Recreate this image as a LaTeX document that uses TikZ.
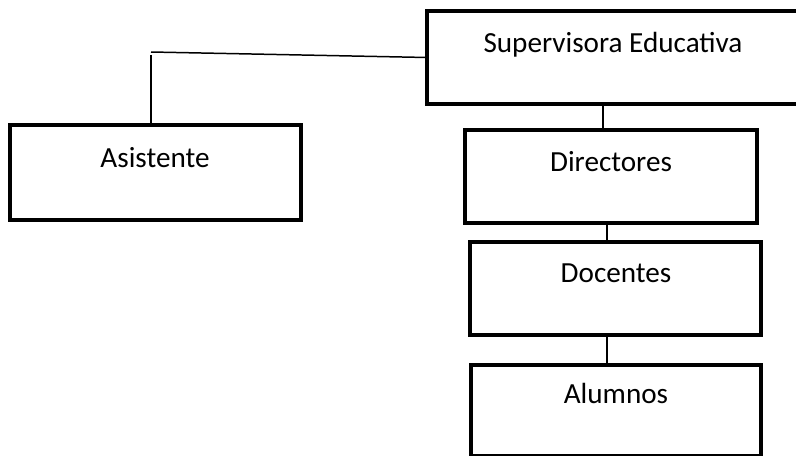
\documentclass[tikz,border=0pt]{standalone}
\usepackage{fontspec}
\setmainfont{Carlito}
\usepackage{tikz}
\usetikzlibrary{positioning}

\begin{document}
\begin{tikzpicture}[
                x=0.02cm, y=-0.02cm,
                box/.style={rectangle, draw, line width=2.55pt, outer sep=0pt, inner sep=0pt},
                lbl/.style={anchor=base, inner sep=0pt, font=\fontsize{16.6}{19}\selectfont},
                link/.style={draw, line width=0.85pt}
            ]
                \useasboundingbox (0,0) rectangle (796,456);
                \clip (0,0) rectangle (796,456);
                % boxes
                \node[box, minimum width=7.46cm, minimum height=1.86cm] (sup) at (613.5,57.5) {};
                \node[box, minimum width=5.82cm, minimum height=1.90cm] (asis) at (155.5,172.5) {};
                \node[box, minimum width=5.84cm, minimum height=1.86cm] (dir) at (611,176.5) {};
                \node[box, minimum width=5.82cm, minimum height=1.86cm] (doc) at (615.5,288.5) {};
                \node[box, minimum width=5.80cm, minimum height=1.82cm] (alu) at (616,410.5) {};
                % texts
                \node[lbl] (supt) at (613,53) {Supervisora Educativa};
                \node[lbl] (asist) at (155,168) {Asistente};
                \node[lbl] (dirt) at (611,172) {Directores};
                \node[lbl] (doct) at (616,283) {Docentes};
                \node[lbl] (alut) at (616,404) {Alumnos};
                % lines
                \coordinate (corner) at (151,52);
                \draw[link] (sup.west) -- (corner);
                \draw[link] ([yshift=-0.06cm]corner) -- (corner |- asis.north);
                \draw[link] ([xshift=-0.16cm]dir.north |- sup.south) -- ([xshift=-0.16cm]dir.north);
                \draw[link] ([xshift=-0.08cm]dir.south) -- ([xshift=-0.08cm]dir.south |- doc.north);
                \draw[link] ([xshift=-0.17cm]doc.south) -- ([xshift=-0.17cm]doc.south |- alu.north);
            \end{tikzpicture}
\end{document}
